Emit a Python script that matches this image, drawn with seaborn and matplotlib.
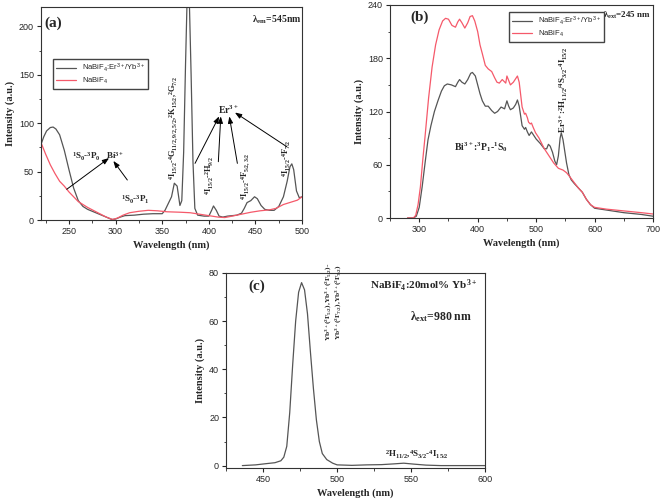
import numpy as np
import pandas as pd
import seaborn as sns
import matplotlib.pyplot as plt

# ---- panel (a): excitation, lambda_em = 545 nm
a_er_x = [220, 223, 226, 230, 233, 236, 240, 245, 250, 255, 260, 265, 270, 280, 290, 296,
          300, 305, 310, 320, 330, 340, 350, 353, 357, 360, 363, 366, 369, 371, 373, 375,
          377, 379, 381, 383, 385, 388, 395, 400, 403, 405, 408, 411, 415, 420, 430, 435,
          438, 441, 445, 449, 452, 456, 460, 465, 470, 475, 480, 484, 487, 489, 491, 494,
          497, 500]
a_er_y = [78, 86, 92, 95.5, 96, 94, 88, 72, 52, 33, 20, 14, 11, 7, 3, 0.5,
          1, 3, 4.5, 5, 6, 6.5, 6.5, 10, 18, 24, 38, 35, 15, 20, 70, 160,
          240, 230, 150, 60, 12, 5, 4, 4, 10, 14.5, 10, 4, 3, 4, 5, 7,
          12, 18, 20, 24, 22, 15, 11, 10, 10, 14, 24, 40, 55, 58, 52, 30,
          23, 24]
a_bi_x = [220, 225, 230, 235, 240, 245, 250, 255, 260, 265, 270, 280, 290, 297, 302, 308,
          315, 325, 335, 345, 355, 370, 380, 390, 400, 410, 417, 425, 435, 445, 455, 465,
          472, 480, 490, 495, 500]
a_bi_y = [80, 68, 57, 48, 40, 35, 29, 24, 19, 16, 13, 8, 3, 0.5, 2, 5,
          7.5, 9, 10, 9.5, 8.5, 8, 7.5, 6, 4.5, 3, 2.5, 4, 6, 8, 9.5, 10.5,
          12, 16, 19, 20.5, 24]

# ---- panel (b): emission, lambda_ext = 245 nm
b_er_x = [280, 290, 295, 300, 305, 310, 315, 320, 326, 332, 338, 343, 348, 355, 362, 366,
          369, 373, 378, 383, 388, 391, 396, 400, 404, 408, 413, 418, 424, 429, 434, 440,
          443, 446, 450, 453, 456, 461, 465, 468, 471, 476, 480, 482, 485, 488, 492, 495,
          500, 507, 514, 518, 521, 524, 528, 532, 535, 538, 541, 543, 546, 549, 552, 556,
          560, 565, 572, 579, 586, 593, 600, 620, 650, 680, 700]
b_er_y = [0, 0, 2, 12, 35, 62, 88, 104, 120, 132, 143, 149, 151, 150, 148, 153,
          156, 153, 151, 156, 163, 164, 160, 150, 140, 132, 126, 126, 121, 118, 120, 125,
          124, 123, 132, 126, 122, 124, 128, 133, 126, 104, 100, 102, 97, 93, 97, 94,
          89, 84, 78, 78, 83, 81, 74, 64, 60, 70, 90, 96, 88, 75, 62, 49,
          43, 39, 34, 29, 21, 15, 11, 9, 6, 4, 2]
b_bi_x = [280, 290, 294, 298, 302, 306, 310, 316, 322, 328, 334, 340, 345, 350, 356, 362,
          366, 369, 373, 378, 383, 387, 391, 395, 400, 404, 408, 413, 418, 424, 429, 433,
          437, 442, 445, 448, 450, 453, 456, 461, 465, 468, 471, 476, 480, 482, 485, 487,
          490, 492, 495, 499, 505, 514, 522, 530, 538, 546, 552, 557, 565, 572, 579, 586,
          593, 600, 620, 650, 680, 700]
b_bi_y = [0, 0, 3, 15, 35, 65, 92, 135, 170, 195, 212, 222, 225, 224, 217, 215,
          221, 224, 220, 214, 220, 227, 228, 222, 210, 195, 185, 172, 168, 165, 158, 153,
          152, 156, 154, 152, 160, 155, 150, 153, 157, 160, 153, 125, 117, 118, 113, 108,
          106, 107, 102, 96, 90, 78, 70, 62, 56, 54, 51, 47, 40, 34, 29, 21,
          15, 12, 10, 8, 6, 4.5]

# ---- panel (c): NaBiF4:20mol% Yb, lambda_ext = 980 nm
c_x = [436, 445, 452, 458, 462, 464, 466, 468, 470, 472, 474, 476, 478, 480, 482, 484,
       486, 488, 490, 493, 497, 500, 510, 520, 530, 538, 545, 552, 560, 570, 585, 600]
c_y = [0, 0.3, 0.8, 1.2, 2, 3.5, 8, 22, 42, 60, 72, 76, 73, 63, 47, 32,
       19, 10, 5, 2.5, 1, 0.3, 0.1, 0.3, 0.4, 0.7, 1.0, 0.6, 0.2, 0, 0, 0]

lab_er = r'NaBiF$\mathregular{_4}$:Er$\mathregular{^{3+}}$/Yb$\mathregular{^{3+}}$'
lab_bi = r'NaBiF$\mathregular{_4}$'

GRAY = '#555555'
RED = '#f5596a'

sns.set_style('ticks')
plt.rcParams['font.family'] = ['Liberation Sans', 'DejaVu Sans']
plt.rcParams['axes.edgecolor'] = '#333333'
plt.rcParams['axes.linewidth'] = 0.8

SERIF = dict(family='Liberation Serif', weight='bold')

fig = plt.figure(figsize=(6.61, 5.0), dpi=100)
ax1 = fig.add_axes([0.062, 0.56, 0.395, 0.426])
ax2 = fig.add_axes([0.590, 0.564, 0.398, 0.426])
ax3 = fig.add_axes([0.342, 0.064, 0.392, 0.39])


def style_axis(ax, xlim, ylim, xmaj, ymaj):
    ax.set_xlim(*xlim)
    ax.set_ylim(*ylim)
    ax.set_xticks(np.arange(xmaj[0], xlim[1] + 0.1, xmaj[1]))
    ax.set_xticks(np.arange(xmaj[0] - xmaj[1] / 2, xlim[1] + 0.1, xmaj[1] / 2), minor=True)
    ax.set_yticks(np.arange(0, ylim[1] + 0.1, ymaj))
    ax.set_yticks(np.arange(0, ylim[1] + 0.1, ymaj / 2), minor=True)
    ax.tick_params(which='major', direction='out', length=3, width=0.8, labelsize=6.5, pad=2)
    ax.tick_params(which='minor', direction='out', length=1.8, width=0.6)
    ax.set_xlabel('Wavelength (nm)', fontsize=7.5, labelpad=3, **SERIF)
    ax.set_ylabel('Intensity (a.u.)', fontsize=7.5, labelpad=3, **SERIF)
    for s in ax.spines.values():
        s.set_visible(True)


# panel (a)
sns.lineplot(x=a_er_x, y=a_er_y, ax=ax1, color=GRAY, lw=0.9, label=lab_er)
sns.lineplot(x=a_bi_x, y=a_bi_y, ax=ax1, color=RED, lw=0.9, label=lab_bi)
style_axis(ax1, (220, 500), (0, 220), (250, 50), 50)
ax1.legend(loc='upper left', bbox_to_anchor=(0.03, 0.775), fontsize=5.5, frameon=True,
           fancybox=False, edgecolor='#444444', framealpha=1, handlelength=2.6,
           borderpad=0.4, labelspacing=0.15)
ax1.text(224, 203, '(a)', fontsize=11, va='center', **SERIF)
ax1.text(446, 207, r'$\mathregular{\lambda_{em}}$=545nm', fontsize=7, va='center', **SERIF)
ax1.text(253, 65, r'$\mathregular{^1S_0}$-$\mathregular{^3P_0}$', fontsize=6.5, va='center', **SERIF)
ax1.text(290, 67, r'Bi$\mathregular{^{3+}}$', fontsize=6.5, va='center', **SERIF)
ax1.text(306, 21, r'$\mathregular{^1S_0}$-$\mathregular{^3P_1}$', fontsize=6.5, va='center', **SERIF)
ax1.text(362, 41, r'$\mathregular{^4I_{15/2}}$-$\mathregular{^4G_{11/2,9/2,5/2}}$,'
         r'$\mathregular{^2K_{15/2}}$,$\mathregular{^2G_{7/2}}$',
         fontsize=6, rotation=90, ha='center', va='bottom', **SERIF)
ax1.text(421, 114, r'Er$\mathregular{^{3+}}$', fontsize=7, ha='center', va='center', **SERIF)
ax1.text(401, 26, r'$\mathregular{^4I_{15/2}}$-$\mathregular{^2H_{9/2}}$',
         fontsize=6, rotation=90, ha='center', va='bottom', **SERIF)
ax1.text(439, 21, r'$\mathregular{^4I_{15/2}}$-$\mathregular{^4F_{5/2,3/2}}$',
         fontsize=6, rotation=90, ha='center', va='bottom', **SERIF)
ax1.text(484, 44, r'$\mathregular{^4I_{15/2}}$-$\mathregular{^4F_{7/2}}$',
         fontsize=6, rotation=90, ha='center', va='bottom', **SERIF)
arrow = dict(arrowstyle='-|>,head_length=0.4,head_width=0.15', color='black', lw=0.7,
             shrinkA=0, shrinkB=0)
for tail, head in [((247.6, 31.7), (293, 64)), ((312.6, 41.3), (297.6, 61)),
                   ((385.2, 58.5), (411, 107)), ((410.2, 60.2), (412.8, 107)),
                   ((430.6, 58.5), (422, 107)), ((483.6, 75.7), (428, 111))]:
    ax1.annotate('', xy=head, xytext=tail, arrowprops=arrow)

# panel (b)
sns.lineplot(x=b_er_x, y=b_er_y, ax=ax2, color=GRAY, lw=0.9, label=lab_er)
sns.lineplot(x=b_bi_x, y=b_bi_y, ax=ax2, color=RED, lw=0.9, label=lab_bi)
style_axis(ax2, (280, 700), (0, 240), (300, 100), 60)
ax2.legend(loc='upper left', bbox_to_anchor=(0.437, 0.986), fontsize=5.5, frameon=True,
           fancybox=False, edgecolor='#444444', framealpha=1, handlelength=2.6,
           borderpad=0.4, labelspacing=0.15)
ax2.text(285, 226, '(b)', fontsize=11, va='center', **SERIF)
ax2.text(614, 228, r'$\mathregular{\lambda_{ext}}$=245 nm', fontsize=6.5, va='center', **SERIF)
ax2.text(360, 80, r'Bi$\mathregular{^{3+}}$:$\mathregular{^3P_1}$-$\mathregular{^1S_0}$',
         fontsize=7, va='center', **SERIF)
ax2.text(547, 96, r'Er$\mathregular{^{3+}}$:$\mathregular{^2H_{11/2}}$/'
         r'$\mathregular{^4S_{3/2}}$-$\mathregular{^4I_{15/2}}$',
         fontsize=6.5, rotation=90, ha='center', va='bottom', **SERIF)

# panel (c)
sns.lineplot(x=c_x, y=c_y, ax=ax3, color=GRAY, lw=0.9)
style_axis(ax3, (436, 600), (-1, 80), (450, 50), 20)
ax3.text(440, 74.5, '(c)', fontsize=11, va='center', **SERIF)
ax3.text(522, 74.5, r'NaBiF$\mathregular{_4}$:20mol% Yb$\mathregular{^{3+}}$',
         fontsize=8, va='center', **SERIF)
ax3.text(549, 62, r'$\mathregular{\lambda_{ext}}$=980 nm', fontsize=8.5, va='center', **SERIF)
ax3.text(497, 68, r'Yb$\mathregular{^{3+}}$($\mathregular{^2F_{5/2}}$),Yb$\mathregular{^{3+}}$'
         r'($\mathregular{^2F_{5/2}}$)-' '\n'
         r'Yb$\mathregular{^{3+}}$($\mathregular{^2F_{7/2}}$),Yb$\mathregular{^{3+}}$'
         r'($\mathregular{^2F_{7/2}}$)',
         fontsize=5.3, rotation=90, ha='center', va='center', multialignment='center',
         linespacing=1.0, **SERIF)
ax3.text(554, 4.5, r'$\mathregular{^2H_{11/2}}$,$\mathregular{^4S_{3/2}}$-$\mathregular{^4I_{15/2}}$',
         fontsize=6.5, ha='center', va='center', **SERIF)

fig.savefig('out.png', dpi=100)
